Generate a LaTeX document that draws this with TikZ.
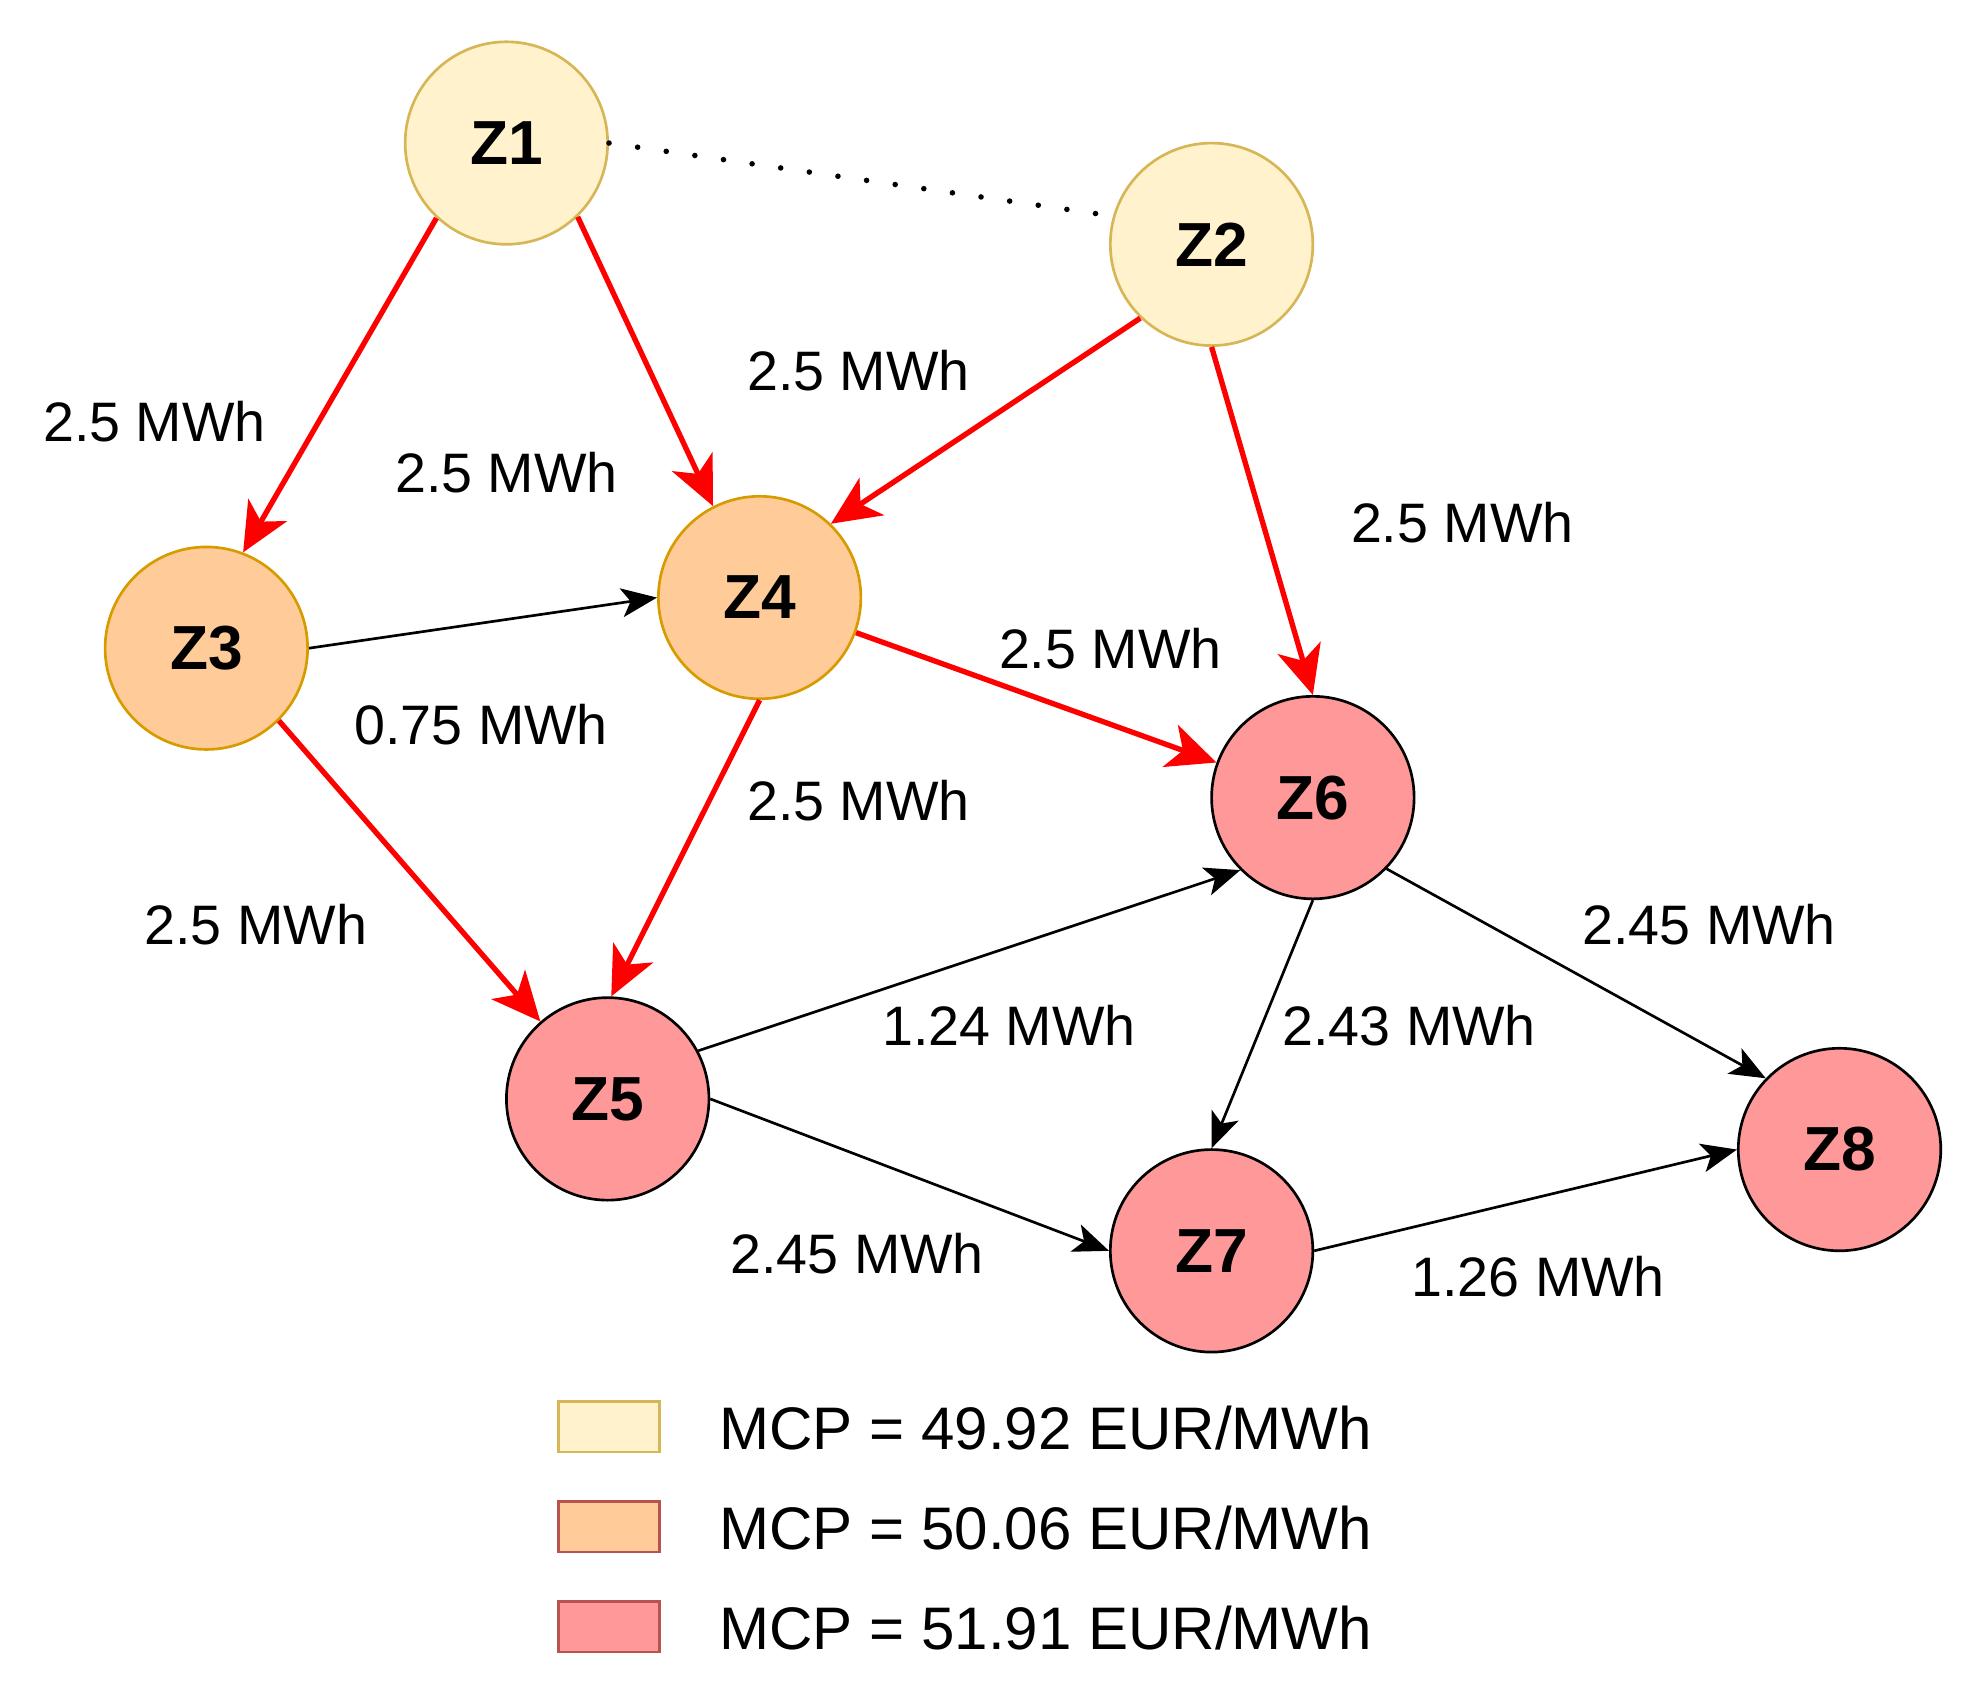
\documentclass[tikz,border=0pt]{standalone}
\usepackage{fontspec}
\setmainfont{Liberation Sans}
\usetikzlibrary{arrows.meta}
\definecolor{yfill}{HTML}{FFF2CC}\definecolor{ydraw}{HTML}{D6B656}
\definecolor{ofill}{HTML}{FFCC99}\definecolor{odraw}{HTML}{D79B00}
\definecolor{rfill}{HTML}{FF9999}\definecolor{rdraw}{HTML}{B85450}
\tikzset{
 zone/.style={circle,minimum size=3.2cm,inner sep=0pt,line width=1.2pt,font=\fontsize{28}{32}\selectfont\bfseries},
 yz/.style={zone,draw=ydraw,fill=yfill},
 oz/.style={zone,draw=odraw,fill=ofill},
 rz/.style={zone,draw=black,fill=rfill},
 redflow/.style={red,line width=2.4pt,-{Stealth[length=22pt,width=20pt,inset=6pt]}},
 blackflow/.style={black,line width=1.2pt,-{Stealth[length=16pt,width=13pt,inset=4pt]}},
 lbl/.style={font=\fontsize{25}{30}\selectfont},
 leg/.style={minimum width=1.6cm,minimum height=0.8cm,line width=1.2pt,inner sep=0pt},
 legtxt/.style={anchor=west,font=\fontsize{27}{32}\selectfont,inner sep=0pt}
}
\begin{document}
\begin{tikzpicture}[x=0.02cm,y=-0.02cm]
\useasboundingbox (0,0) rectangle (1560,1334);
\node[yz] (z1) at (400,113) {Z1};
\node[yz] (z2) at (957,193) {Z2};
\node[oz] (z3) at (163,512) {Z3};
\node[oz] (z4) at (600,472) {Z4};
\node[rz] (z5) at (480,868) {Z5};
\node[rz] (z6) at (1037,630) {Z6};
\node[rz] (z7) at (957,988) {Z7};
\node[rz] (z8) at (1453,908) {Z8};
\draw[line width=2.5pt,line cap=round,dash pattern=on 0pt off 13pt] (z1.0) -- (z2.164);
\draw[redflow] (z1.227) -- (z3.69);
\draw[redflow] (z1.314) -- (z4.117);
\draw[redflow] (z2.226) -- (z4.46);
\draw[redflow] (z2.270) -- (z6.90);
\draw[redflow] (z4.340) -- (z6.160);
\draw[redflow] (z4.270) -- (z5.88);
\draw[redflow] (z3.315) -- (z5.131);
\draw[blackflow] (z3.0) -- (z4.180);
\draw[blackflow] (z5.28) -- (z6.225);
\draw[blackflow] (z5.0) -- (z7.180);
\draw[blackflow] (z6.270) -- (z7.90);
\draw[blackflow] (z6.316) -- (z8.136);
\draw[blackflow] (z7.0) -- (z8.180);
\node[lbl] (l1) at (122,333) {2.5 MWh};
\node[lbl] (l2) at (400,373) {2.5 MWh};
\node[lbl] (l3) at (678,293) {2.5 MWh};
\node[lbl] (l4) at (1155,413) {2.5 MWh};
\node[lbl] (l5) at (877,512) {2.5 MWh};
\node[lbl] (l6) at (678,632) {2.5 MWh};
\node[lbl] (l7) at (202,730) {2.5 MWh};
\node[lbl] (l8) at (380,572) {0.75 MWh};
\node[lbl] (l9) at (797,810) {1.24 MWh};
\node[lbl] (l10) at (1113,810) {2.43 MWh};
\node[lbl] (l11) at (1350,730) {2.45 MWh};
\node[lbl] (l12) at (677,990) {2.45 MWh};
\node[lbl] (l13) at (1215,1008) {1.26 MWh};
\node[leg,draw=ydraw,fill=yfill] (b1) at (481,1127) {};
\node[leg,draw=rdraw,fill=ofill] (b2) at (481,1206) {};
\node[leg,draw=rdraw,fill=rfill] (b3) at (481,1285) {};
\node[legtxt] (t1) at (568,1128) {MCP = 49.92 EUR/MWh};
\node[legtxt] (t2) at (568,1207) {MCP = 50.06 EUR/MWh};
\node[legtxt] (t3) at (568,1286) {MCP = 51.91 EUR/MWh};
\end{tikzpicture}
\end{document}
